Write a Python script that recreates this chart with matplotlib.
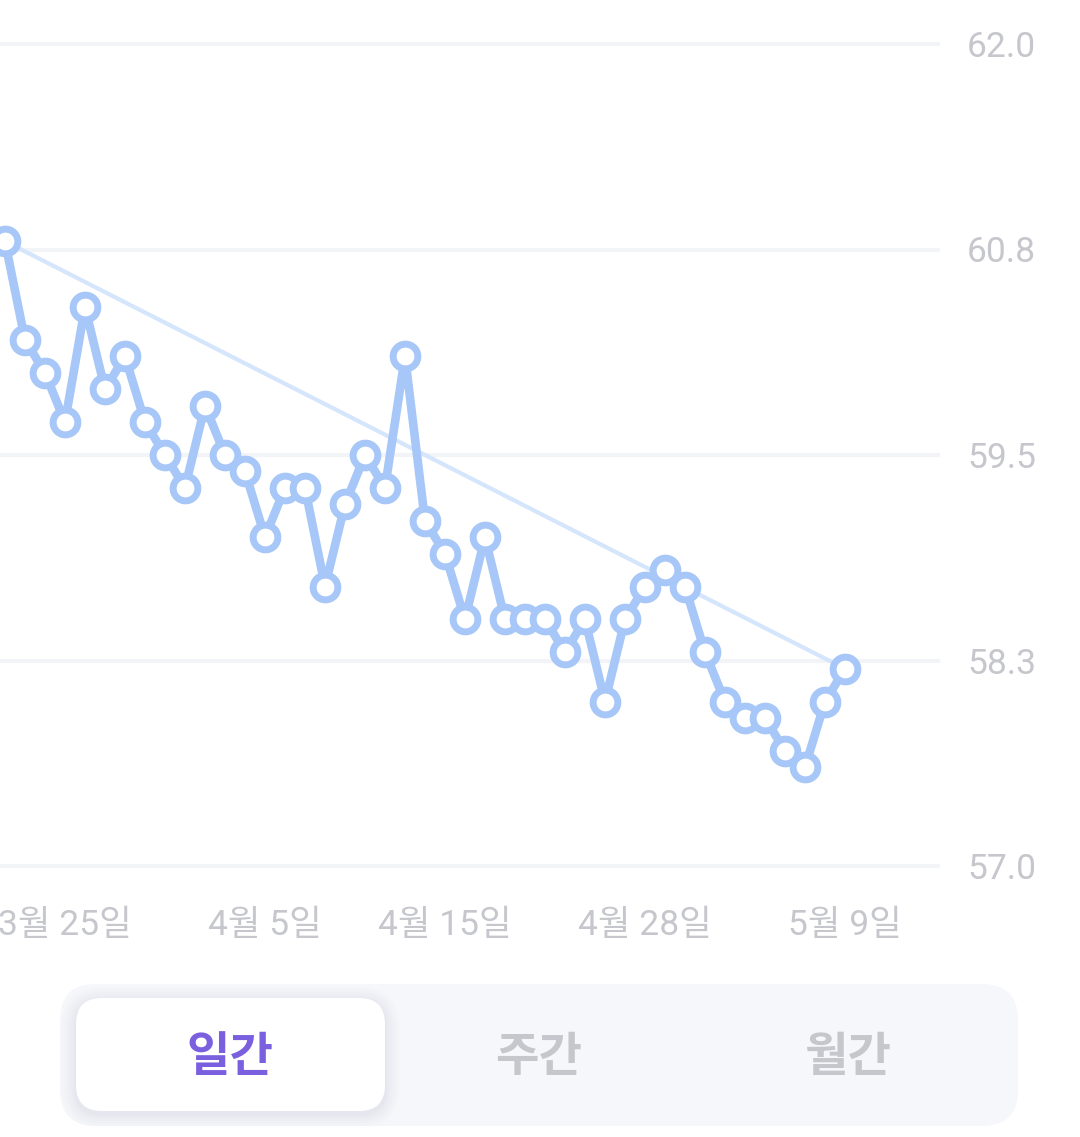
import matplotlib
matplotlib.use("Agg")
import matplotlib.pyplot as plt
from matplotlib.patches import FancyBboxPatch

# ---- data ----
values = [60.8, 60.2, 60.0, 59.7, 60.4, 59.9, 60.1, 59.7, 59.5, 59.3,
          59.8, 59.5, 59.4, 59.0, 59.3, 59.3, 58.7, 59.2, 59.5, 59.3,
          60.1, 59.1, 58.9, 58.5, 59.0, 58.5, 58.5, 58.5, 58.3, 58.5,
          58.0, 58.5, 58.7, 58.8, 58.7, 58.3, 58.0, 57.9, 57.9, 57.7,
          57.6, 58.0, 58.2]
xtick_idx = [3, 13, 22, 32, 42]
xtick_labels = ["3월 25일", "4월 5일", "4월 15일", "4월 28일", "5월 9일"]
ytick_vals = [57.0, 58.25, 59.5, 60.75, 62.0]
ytick_labels = ["57.0", "58.3", "59.5", "60.8", "62.0"]
tabs = ["일간", "주간", "월간"]

W, H, DPI = 1080, 1137, 100
fig = plt.figure(figsize=(W / DPI, H / DPI), dpi=DPI)
fig.patch.set_facecolor("white")

fam = ["Roboto", "Noto Sans CJK KR", "DejaVu Sans"]

# main axes: x pixels 0..938, y pixels 44..866
ax = fig.add_axes([0, 1 - 866 / H, 938 / W, (866 - 44) / H])
ax.set_xlim(-0.25, 46.65)
ax.set_ylim(57.0, 62.0)
for s in ax.spines.values():
    s.set_visible(False)
ax.set_facecolor("none")

for v in ytick_vals:
    ax.axhline(v, color="#f3f4f8", lw=3, zorder=0, clip_on=False)

xs = list(range(len(values)))
line_c = "#a6c7f7"
ax.plot([xs[0], xs[-1]], [values[0], values[-1]], color="#d5e5fb", lw=3, zorder=1,
        solid_capstyle="round")
ax.plot(xs, values, color=line_c, lw=6.2, zorder=2, marker="o", markersize=17.8,
        markerfacecolor="white", markeredgecolor=line_c, markeredgewidth=5.0,
        clip_on=False, solid_joinstyle="round")

ax.yaxis.tick_right()
ax.set_yticks(ytick_vals)
ax.set_yticklabels(ytick_labels)
ax.set_xticks(xtick_idx)
ax.set_xticklabels(xtick_labels)
ax.tick_params(axis="y", length=0, pad=21, labelsize=25.5, labelcolor="#c6c7cc")
ax.tick_params(axis="x", length=0, pad=31, labelsize=25.5, labelcolor="#c6c7cc")
for lab in ax.get_xticklabels() + ax.get_yticklabels():
    lab.set_family(fam)

# overlay for segmented control (pixel coords)
ov = fig.add_axes([0, 0, 1, 1])
ov.set_xlim(0, W)
ov.set_ylim(H, 0)
ov.axis("off")
ov.set_facecolor("none")

outer = FancyBboxPatch((60, 984), 958, 142, boxstyle="round,pad=0,rounding_size=36",
                       fc="#f6f7fa", ec="none", zorder=1)
ov.add_patch(outer)
# soft shadow
for i, a in enumerate([0.03, 0.025, 0.02, 0.016, 0.012, 0.008]):
    g = 2 + i * 2.5
    sh = FancyBboxPatch((76 - g, 998 - g + 3), 309 + 2 * g, 113 + 2 * g,
                        boxstyle=f"round,pad=0,rounding_size={26 + g}",
                        fc="#7070a0", ec="none", alpha=a, zorder=2)
    ov.add_patch(sh)
inner = FancyBboxPatch((76, 998), 309, 113, boxstyle="round,pad=0,rounding_size=26",
                       fc="white", ec="none", zorder=3)
ov.add_patch(inner)

tab_x = [230, 539, 848]
tab_c = ["#7a5fdf", "#c6c7cc", "#c6c7cc"]
for t, x, c in zip(tabs, tab_x, tab_c):
    ov.text(x, 1057, t, ha="center", va="center", fontsize=34, fontweight="bold",
            color=c, family=["Noto Sans CJK KR", "DejaVu Sans"], zorder=4)

fig.savefig("out.png", dpi=DPI, facecolor="white")
